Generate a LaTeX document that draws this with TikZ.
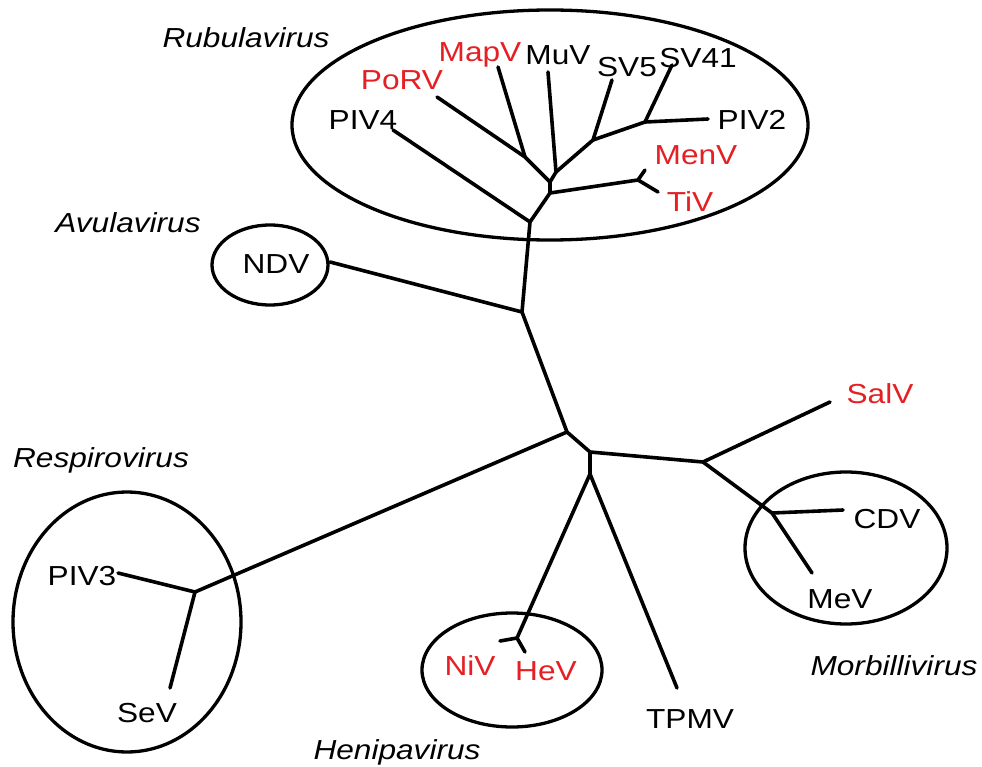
\documentclass[tikz,border=0pt]{standalone}
\usepackage{fontspec}
\setmainfont[FakeStretch=1.15]{Liberation Sans}
\definecolor{vred}{RGB}{228,32,36}
\begin{document}
\begin{tikzpicture}[x=1pt,y=-1pt,
  br/.style={line width=3.6pt,line join=round,line cap=round},
  grp/.style={line width=3.3pt},
  lab/.style={anchor=base,inner sep=0pt,font=\fontsize{27.5}{30}\selectfont},
  rlab/.style={lab,text=vred},
  glab/.style={lab,font=\fontsize{27.5}{30}\selectfont\itshape}]
\useasboundingbox (0,0) rectangle (982,767);
\fill[white] (0,0) rectangle (982,767);
% group ellipses
\draw[grp] (550,125) ellipse [x radius=258, y radius=115];
\draw[grp] (270,265) ellipse [x radius=58, y radius=40];
\draw[grp] (127,622) ellipse [x radius=114, y radius=130];
\draw[grp] (512,670) ellipse [x radius=90, y radius=57];
\draw[grp] (846,548) ellipse [x radius=101, y radius=76];
% tree coordinates
\coordinate (R) at (530,222);
\coordinate (piv4e) at (393,130);
\coordinate (D) at (550,193);
\coordinate (MT) at (638,180);
\coordinate (mene) at (645,170);
\coordinate (tive) at (658,192);
\coordinate (C) at (550,182);
\coordinate (PM) at (525,157);
\coordinate (porve) at (437,97);
\coordinate (mapve) at (498,67);
\coordinate (MS) at (556,172);
\coordinate (muve) at (548,72);
\coordinate (SG) at (593,140);
\coordinate (sv5e) at (612,80);
\coordinate (SP) at (645,122);
\coordinate (sv41e) at (672,65);
\coordinate (piv2e) at (708,119);
\coordinate (N1) at (522,312);
\coordinate (ndve) at (330,262);
\coordinate (N2) at (567,432);
\coordinate (J3) at (195,592);
\coordinate (piv3e) at (118,573);
\coordinate (seve) at (170,688);
\coordinate (N3) at (590,452);
\coordinate (N4) at (590,474);
\coordinate (H1) at (517,638);
\coordinate (nive) at (500,641);
\coordinate (heve) at (525,652);
\coordinate (tpmve) at (677,688);
\coordinate (M1) at (703,462);
\coordinate (salve) at (830,402);
\coordinate (M2) at (772,513);
\coordinate (cdve) at (843,510);
\coordinate (meve) at (812,573);
% branches
\draw[br] (piv4e) -- (R) -- (N1) -- (N2) -- (N3) -- (N4);
\draw[br] (R) -- (D) -- (C) -- (PM) -- (porve);
\draw[br] (PM) -- (mapve);
\draw[br] (C) -- (MS) -- (muve);
\draw[br] (MS) -- (SG) -- (sv5e);
\draw[br] (SG) -- (SP) -- (sv41e);
\draw[br] (SP) -- (piv2e);
\draw[br] (D) -- (MT) -- (mene);
\draw[br] (MT) -- (tive);
\draw[br] (N1) -- (ndve);
\draw[br] (N2) -- (J3) -- (piv3e);
\draw[br] (J3) -- (seve);
\draw[br] (N4) -- (H1) -- (nive);
\draw[br] (H1) -- (heve);
\draw[br] (N4) -- (tpmve);
\draw[br] (N3) -- (M1) -- (salve);
\draw[br] (M1) -- (M2) -- (cdve);
\draw[br] (M2) -- (meve);
% leaf labels
\node[lab] (piv4) at (363,130) {PIV4};
\node[rlab] (porv) at (402,90) {PoRV};
\node[rlab] (mapv) at (480,62) {MapV};
\node[lab] (muv) at (558,65) {MuV};
\node[lab] (sv5) at (627,77) {SV5};
\node[lab] (sv41) at (698,68) {SV41};
\node[lab] (piv2) at (752,130) {PIV2};
\node[rlab] (menv) at (696,165) {MenV};
\node[rlab] (tiv) at (690,212) {TiV};
\node[lab] (ndv) at (276,273) {NDV};
\node[rlab] (salv) at (880,403) {SalV};
\node[lab] (cdv) at (887,528) {CDV};
\node[lab] (mev) at (840,608) {MeV};
\node[lab] (piv3) at (82,585) {PIV3};
\node[lab] (sev) at (147,722) {SeV};
\node[rlab] (niv) at (470,675) {NiV};
\node[rlab] (hev) at (546,680) {HeV};
\node[lab] (tpmv) at (690,728) {TPMV};
% genus labels
\node[glab] (rubula) at (246,48) {Rubulavirus};
\node[glab] (avula) at (128,233) {Avulavirus};
\node[glab] (respiro) at (101,467) {Respirovirus};
\node[glab] (henipa) at (397,759) {Henipavirus};
\node[glab] (morbilli) at (894,675) {Morbillivirus};
\end{tikzpicture}
\end{document}
